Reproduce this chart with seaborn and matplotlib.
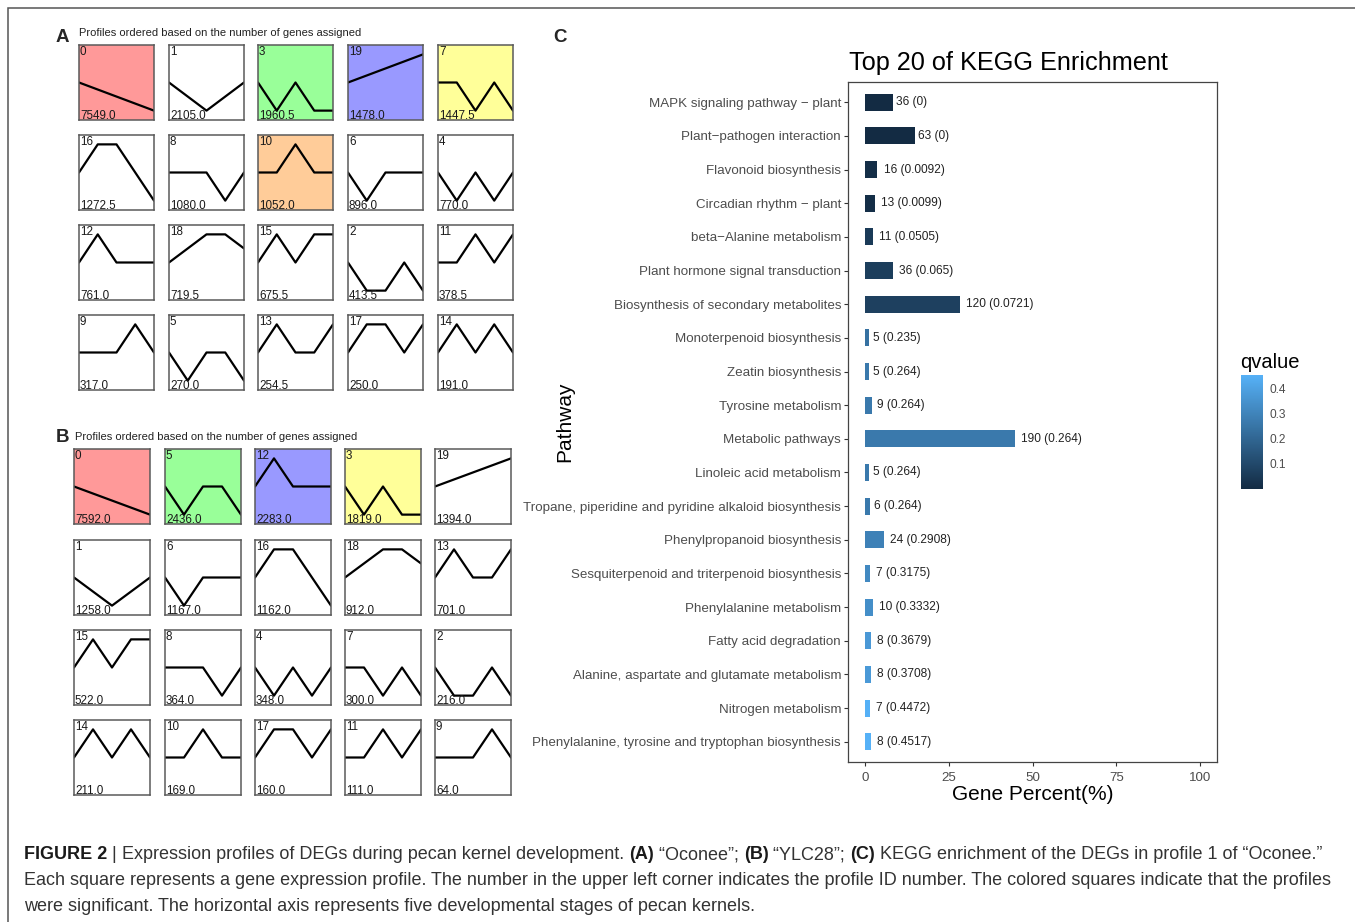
import numpy as np
import pandas as pd
import matplotlib
matplotlib.use("Agg")
import matplotlib.pyplot as plt
import seaborn as sns
from matplotlib import font_manager as fm
from matplotlib import transforms
from matplotlib.colors import LinearSegmentedColormap, Normalize
from matplotlib.cm import ScalarMappable
from matplotlib.patches import Rectangle

# ---------------------------------------------------------------- data
stages = [0, 1, 2, 3, 4]  # five developmental stages

# STEM model profiles (unit changes between consecutive stages), by profile ID
profile_shapes = [
    [0, -1, -2, -3, -4],  # 0
    [0, -1, -2, -1, 0],   # 1
    [0, -1, -1, 0, -1],   # 2
    [0, -1, 0, -1, -1],   # 3
    [0, -1, 0, -1, 0],    # 4
    [0, -1, 0, 0, -1],    # 5
    [0, -1, 0, 0, 0],     # 6
    [0, 0, -1, 0, -1],    # 7
    [0, 0, 0, -1, 0],     # 8
    [0, 0, 0, 1, 0],      # 9
    [0, 0, 1, 0, 0],      # 10
    [0, 0, 1, 0, 1],      # 11
    [0, 1, 0, 0, 0],      # 12
    [0, 1, 0, 0, 1],      # 13
    [0, 1, 0, 1, 0],      # 14
    [0, 1, 0, 1, 1],      # 15
    [0, 1, 1, 0, -1],     # 16
    [0, 1, 1, 0, 1],      # 17
    [0, 1, 2, 2, 1],      # 18
    [0, 1, 2, 3, 4],      # 19
]

# Panel A: "Oconee"
a_ids = [0, 1, 3, 19, 7, 16, 8, 10, 6, 4, 12, 18, 15, 2, 11, 9, 5, 13, 17, 14]
a_counts = [7549.0, 2105.0, 1960.5, 1478.0, 1447.5,
            1272.5, 1080.0, 1052.0, 896.0, 770.0,
            761.0, 719.5, 675.5, 413.5, 378.5,
            317.0, 270.0, 254.5, 250.0, 191.0]
a_significant = {0: "#FF9999", 3: "#99FF99", 19: "#9999FF", 7: "#FFFF99", 10: "#FFCC99"}

# Panel B: "YLC28"
b_ids = [0, 5, 12, 3, 19, 1, 6, 16, 18, 13, 15, 8, 4, 7, 2, 14, 10, 17, 11, 9]
b_counts = [7592.0, 2436.0, 2283.0, 1819.0, 1394.0,
            1258.0, 1167.0, 1162.0, 912.0, 701.0,
            522.0, 364.0, 348.0, 300.0, 216.0,
            211.0, 169.0, 160.0, 111.0, 64.0]
b_significant = {0: "#FF9999", 5: "#99FF99", 12: "#9999FF", 3: "#FFFF99"}

# Panel C: KEGG enrichment of profile 1 ("Oconee")
pathways = [
    "MAPK signaling pathway \u2212 plant",
    "Plant\u2212pathogen interaction",
    "Flavonoid biosynthesis",
    "Circadian rhythm \u2212 plant",
    "beta\u2212Alanine metabolism",
    "Plant hormone signal transduction",
    "Biosynthesis of secondary metabolites",
    "Monoterpenoid biosynthesis",
    "Zeatin biosynthesis",
    "Tyrosine metabolism",
    "Metabolic pathways",
    "Linoleic acid metabolism",
    "Tropane, piperidine and pyridine alkaloid biosynthesis",
    "Phenylpropanoid biosynthesis",
    "Sesquiterpenoid and triterpenoid biosynthesis",
    "Phenylalanine metabolism",
    "Fatty acid degradation",
    "Alanine, aspartate and glutamate metabolism",
    "Nitrogen metabolism",
    "Phenylalanine, tyrosine and tryptophan biosynthesis",
]
gene_counts = [36, 63, 16, 13, 11, 36, 120, 5, 5, 9, 190, 5, 6, 24, 7, 10, 8, 8, 7, 8]
qvalues = [0, 0, 0.0092, 0.0099, 0.0505, 0.065, 0.0721, 0.235, 0.264, 0.264,
           0.264, 0.264, 0.264, 0.2908, 0.3175, 0.3332, 0.3679, 0.3708, 0.4472, 0.4517]
genes_total = 424  # annotated genes in the profile
gene_ticks = [0, 25, 50, 75, 100]
q_ticks = [0.1, 0.2, 0.3, 0.4]

caption_lines = [
    [("FIGURE 2", True), (" | ", False),
     ("Expression profiles of DEGs during pecan kernel development. ", False),
     ("(A)", True), (" \u201cOconee\u201d; ", False), ("(B)", True),
     (" \u201cYLC28\u201d; ", False), ("(C)", True),
     (" KEGG enrichment of the DEGs in profile 1 of \u201cOconee.\u201d", False)],
    [("Each square represents a gene expression profile. The number in the upper left corner "
      "indicates the profile ID number. The colored squares indicate that the profiles", False)],
    [("were significant. The horizontal axis represents five developmental stages of pecan kernels.", False)],
]

# ---------------------------------------------------------------- setup
W, H = 1355, 922
sns.set_theme(style="white")
plt.rcParams["font.family"] = ["Liberation Sans", "DejaVu Sans"]

fig = plt.figure(figsize=(W / 100, H / 100), dpi=100)
renderer = fig.canvas.get_renderer()


def px_rect(x, y, w, h):
    return [x / W, 1 - (y + h) / H, w / W, h / H]


def fx(x):
    return x / W


def fy(y):
    return 1 - y / H


# outer frame
fig.add_artist(Rectangle((8 / W, -0.1), 1.2, 1.1 - 8 / H, transform=fig.transFigure,
                         fill=False, edgecolor="#555555", lw=1.1))


# ---------------------------------------------------------------- panels A / B
def draw_profile(x, y, w, h, pid, count, face):
    ax = fig.add_axes(px_rect(x, y, w, h))
    df = pd.DataFrame({"stage": stages, "level": profile_shapes[pid]})
    sns.lineplot(data=df, x="stage", y="level", ax=ax, color="black", lw=1.6)
    m = max(abs(v) for v in profile_shapes[pid])
    ax.set_xlim(stages[0], stages[-1])
    ax.set_ylim(-m * 4 / 3, m * 4 / 3)
    ax.set_facecolor(face)
    ax.set_xticks([])
    ax.set_yticks([])
    ax.set_xlabel("")
    ax.set_ylabel("")
    for s in ax.spines.values():
        s.set_visible(True)
        s.set_color("#5a5a5a")
        s.set_linewidth(1.1)
    ax.text(0.012, 0.985, str(pid), transform=ax.transAxes, ha="left", va="top",
            fontsize=8.4, color="#1a1a1a")
    ax.text(0.012, 0.012, f"{count:.1f}", transform=ax.transAxes, ha="left", va="baseline",
            fontsize=8.4, color="#1a1a1a")


def draw_grid(x_lefts, y_tops, size, ids, counts, significant):
    for k, (pid, cnt) in enumerate(zip(ids, counts)):
        r, c = divmod(k, 5)
        draw_profile(x_lefts[c], y_tops[r], size[0], size[1], pid, cnt,
                     significant.get(pid, "white"))


draw_grid([79, 169, 258, 348, 438], [45, 135, 225, 315], (75, 75),
          a_ids, a_counts, a_significant)
draw_grid([74, 165, 255, 345, 435], [449, 540, 630, 720], (76, 75),
          b_ids, b_counts, b_significant)

fig.text(fx(56), fy(41.7), "A", fontsize=13.5, fontweight="bold", ha="left", va="baseline")
fig.text(fx(79), fy(36.5), "Profiles ordered based on the number of genes assigned",
         fontsize=8, ha="left", va="baseline", color="#222222")
fig.text(fx(56), fy(441.5), "B", fontsize=13.5, fontweight="bold", ha="left", va="baseline")
fig.text(fx(75), fy(440.5), "Profiles ordered based on the number of genes assigned",
         fontsize=8, ha="left", va="baseline", color="#222222")
fig.text(fx(553), fy(41.7), "C", fontsize=13.5, fontweight="bold", ha="left", va="baseline")

# ---------------------------------------------------------------- panel C
cmap = LinearSegmentedColormap.from_list("qvalue", ["#132B43", "#56B1F7"])
norm = Normalize(vmin=0, vmax=max(qvalues))
bar_colors = [cmap(norm(q)) for q in qvalues]

dfc = pd.DataFrame({
    "Pathway": pathways,
    "percent": np.array(gene_counts) / genes_total * 100,
    "label": [f"{c} ({q:g})" for c, q in zip(gene_counts, qvalues)],
})

axc = fig.add_axes(px_rect(848, 82, 369, 680))
sns.barplot(data=dfc, x="percent", y="Pathway", hue="Pathway", order=pathways,
            hue_order=pathways, palette=bar_colors, width=0.5, orient="h",
            saturation=1, legend=False, linewidth=0, ax=axc)
axc.set_xlim(-5, 105)
axc.set_ylim(len(pathways) - 0.4, -0.6)
axc.set_xticks(gene_ticks)
axc.set_xlabel("")
axc.set_ylabel("")
axc.tick_params(axis="both", which="major", length=3, width=0.8, color="#333333",
                labelcolor="#4D4D4D", bottom=True, left=True, pad=2)
axc.tick_params(axis="y", labelsize=9.6)
axc.tick_params(axis="x", labelsize=9.6, pad=4)
for s in axc.spines.values():
    s.set_visible(True)
    s.set_color("#444444")
    s.set_linewidth(0.9)

# value labels, nudged right by a tenth of their own width
label_texts = []
for i, row in dfc.iterrows():
    t = axc.text(row["percent"], i, row["label"], ha="left", va="center",
                 fontsize=8.6, color="#222222")
    label_texts.append(t)
for t in label_texts:
    w = t.get_window_extent(renderer).width
    t.set_transform(transforms.offset_copy(axc.transData, fig=fig, x=0.1 * w, y=0,
                                           units="dots"))

fig.text(fx(849), fy(70), "Top 20 of KEGG Enrichment", fontsize=18.2, ha="left",
         va="baseline", color="black")
fig.text(fx(1032.5), fy(800), "Gene Percent(%)", fontsize=15, ha="center",
         va="baseline", color="black")
fig.text(fx(565), fy(422), "Pathway", fontsize=15, rotation=90, ha="center",
         va="center", color="black")

# colour bar
cax = fig.add_axes(px_rect(1241, 375, 22, 114))
cb = fig.colorbar(ScalarMappable(norm=norm, cmap=cmap), cax=cax)
cb.outline.set_visible(False)
cb.set_ticks(q_ticks)
cax.yaxis.set_ticks_position("both")
cax.tick_params(axis="y", which="major", direction="in", length=4.2, width=0.7,
                color="white", labelsize=8.6, labelcolor="#4D4D4D", pad=5,
                left=True, right=True, labelleft=False, labelright=True)
cax.tick_params(axis="y", which="minor", length=0)
fig.text(fx(1240), fy(368), "qvalue", fontsize=14.5, ha="left", va="baseline", color="black")


# ---------------------------------------------------------------- caption
def pick_caption_font():
    for name in ["Liberation Sans Narrow", "Liberation Sans"]:
        try:
            fm.findfont(fm.FontProperties(family=name), fallback_to_default=False)
            return name
        except ValueError:
            continue
    return "DejaVu Sans"


cap_font = pick_caption_font()


def run_width(s, size, bold):
    kw = dict(fontsize=size, fontweight="bold" if bold else "normal", family=cap_font)
    t1 = fig.text(0, 0, "|" + s + "|", **kw)
    t2 = fig.text(0, 0, "||", **kw)
    w = t1.get_window_extent(renderer).width - t2.get_window_extent(renderer).width
    t1.remove()
    t2.remove()
    return w


# size the caption so its second (full) line spans the frame width
base = 12.0
natural = sum(run_width(s, base, b) for s, b in caption_lines[1])
cap_size = base * 1308 / natural

for line, y in zip(caption_lines, [859, 885, 911]):
    x = 24.0
    for s, bold in line:
        fig.text(fx(x), fy(y), s, fontsize=cap_size, family=cap_font,
                 fontweight="bold" if bold else "normal",
                 color="#1a1a1a" if bold else "#333333", ha="left", va="baseline")
        x += run_width(s, cap_size, bold)

fig.savefig("out.png", dpi=100)
